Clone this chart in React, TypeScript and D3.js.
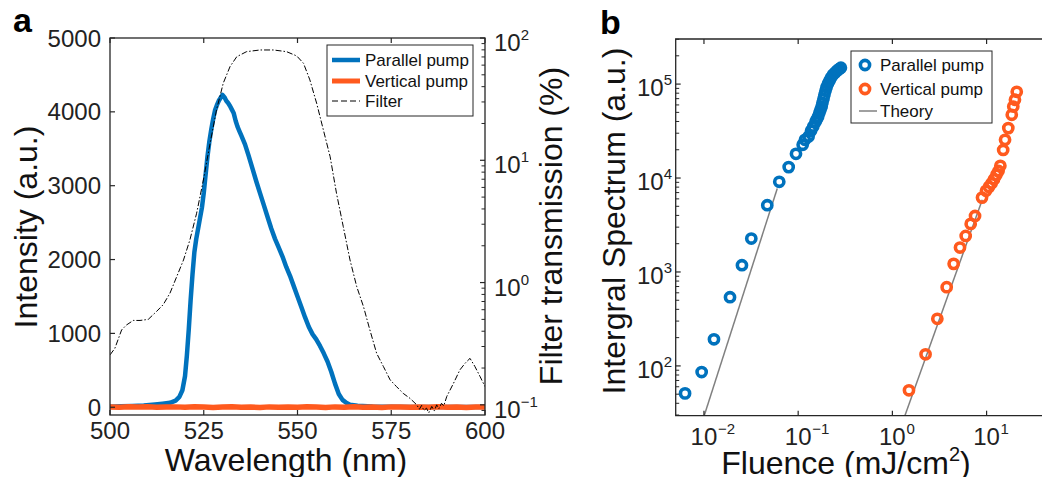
import React from 'react';
import * as d3 from 'd3';

const FONT = '"Liberation Sans", Arial, Helvetica, sans-serif';
const AX = '#262626';
const BLUE = '#0072BD';
const ORANGE = '#FF5A1E';
const GRAY = '#808080';

// ---------- Panel a data ----------
const wlParallel = [500, 503, 506, 509, 512, 514, 516, 517.5, 518.5, 519.3, 520, 520.5, 521, 521.5, 522, 522.5, 523, 523.5, 524, 524.5, 525, 525.5, 526, 526.5, 527, 527.5, 528, 528.5, 529, 529.5, 530, 530.5, 531, 531.5, 532, 532.5, 533, 533.5, 534, 534.5, 535, 536, 537, 538, 539, 540, 541, 542, 543, 544, 545, 546, 547, 548, 549, 550, 551, 552, 553, 554, 555, 556, 557, 558, 559, 560, 561, 562, 563, 564, 566, 570, 580, 590, 600];
const intParallel = [8, 12, 18, 25, 38, 48, 60, 90, 140, 230, 420, 700, 1050, 1450, 1800, 2100, 2280, 2420, 2560, 2700, 2900, 3150, 3400, 3600, 3760, 3900, 4020, 4090, 4150, 4190, 4230, 4200, 4150, 4120, 4080, 4030, 3980, 3880, 3800, 3740, 3680, 3560, 3400, 3230, 3060, 2900, 2740, 2580, 2420, 2280, 2160, 2040, 1900, 1780, 1640, 1500, 1360, 1220, 1090, 990, 920, 830, 730, 620, 480, 320, 180, 100, 60, 35, 20, 10, 5, 3, 2];

const wlVertical = [500, 502.5, 505, 507.5, 510, 512.5, 515, 517.5, 520, 522.5, 525, 527.5, 530, 532.5, 535, 537.5, 540, 542.5, 545, 547.5, 550, 552.5, 555, 557.5, 560, 562.5, 565, 567.5, 570, 572.5, 575, 577.5, 580, 582.5, 585, 587.5, 590, 592.5, 595, 597.5, 600];
const intVertical = [4, 1, 6, 2, 7, 0, 3, 5, -1, 6, 2, -2, 4, 8, 0, 3, -2, 5, 1, 4, -1, 6, 2, -2, 5, 1, 6, 0, 3, -3, 5, 2, -1, 4, 1, 7, 0, 3, -2, 4, 2];

const wlFilter = [500, 501.3, 503.1, 504.4, 506.2, 508.0, 510.2, 512.4, 514.2, 516.0, 517.8, 519.6, 521.3, 523.1, 524.9, 526.7, 528.4, 530.2, 532.0, 533.8, 536.4, 540.0, 543.6, 547.1, 549.8, 551.6, 553.3, 555.1, 556.9, 558.7, 560.4, 562.2, 564.0, 565.8, 567.6, 569.3, 571.1, 572.9, 574.7, 576.4, 578.2, 580.0, 581.8, 582.5, 583.1, 583.7, 584.4, 585.0, 585.8, 586.5, 587.1, 587.7, 588.4, 589.0, 589.8, 591.6, 593.3, 594.7, 596.0, 597.3, 598.7, 600];
const filterT = [0.256, 0.29, 0.41, 0.45, 0.49, 0.49, 0.50, 0.58, 0.66, 0.82, 1.12, 1.53, 2.23, 3.69, 6.9, 13.8, 25.8, 42.7, 58.3, 70.3, 77.3, 79.8, 79.8, 77.3, 71.3, 62.1, 45.4, 29.3, 17.7, 10.7, 5.37, 2.87, 1.53, 0.925, 0.635, 0.41, 0.264, 0.206, 0.16, 0.141, 0.124, 0.113, 0.100, 0.092, 0.099, 0.090, 0.094, 0.086, 0.097, 0.089, 0.100, 0.093, 0.103, 0.098, 0.117, 0.150, 0.193, 0.219, 0.240, 0.206, 0.170, 0.141];

const xTicksA = [500, 525, 550, 575, 600];
const yTicksA = [0, 1000, 2000, 3000, 4000, 5000];
const rightDecadesA = [-1, 0, 1, 2];

// ---------- Panel b data ----------
const fluenceParallel = [0.0063, 0.00945, 0.01277, 0.0189, 0.0253, 0.0318, 0.047, 0.063, 0.0793, 0.0948, 0.1116, 0.118, 0.129, 0.137, 0.1445, 0.1527, 0.1585, 0.163, 0.168, 0.1725, 0.1776, 0.181, 0.1857, 0.19, 0.195, 0.2, 0.207, 0.2148, 0.223, 0.234, 0.246, 0.258, 0.271, 0.284];
const spectrumParallel = [51, 86, 192, 539, 1180, 2270, 5140, 9120, 13070, 18100, 22600, 25500, 27700, 31800, 35300, 39600, 42600, 45200, 49500, 53200, 57700, 63200, 69700, 76900, 84900, 92500, 100700, 108400, 116700, 125600, 131900, 138600, 143800, 149300];
const fluenceVertical = [1.5, 2.25, 3.0, 3.77, 4.47, 5.22, 6.0, 6.78, 7.54, 8.94, 9.86, 10.6, 11.3, 12.0, 12.7, 13.4, 14.0, 15.0, 15.7, 17.0, 18.5, 19.2, 20.0, 20.9];
const spectrumVertical = [55, 133, 317, 689, 1220, 1820, 2420, 3250, 3950, 6190, 7310, 8050, 8780, 9690, 10800, 11900, 13500, 19900, 25500, 34000, 47100, 57700, 68100, 82800];
const theoryParallelF = [0.01, 0.06];
const theoryParallelS = [29, 7750];
const theoryVerticalF = [1.36, 9.0];
const theoryVerticalS = [29.6, 5880];
const xDecadesB = [-2, -1, 0, 1];
const yDecadesB = [2, 3, 4, 5];

// ---------- geometry ----------
const A = { l: 110, r: 485, t: 38, b: 415 };
const B = { l: 675.7, r: 1080.8, t: 39, b: 415.7 };

const xA = d3.scaleLinear().domain([500, 600]).range([A.l, A.r]);
const yA = d3.scaleLinear().domain([-105, 5000]).range([A.b, A.t]);
const yAR = d3.scaleLog().domain([Math.pow(10, -1.083), 100]).range([A.b, A.t]);

const xB = d3.scaleLog().domain([Math.pow(10, -2.3), 100]).range([B.l, B.r]);
const yB = d3.scaleLog().domain([Math.pow(10, 1.47), Math.pow(10, 5.48)]).range([B.b, B.t]);

function zip(xs: number[], ys: number[]): [number, number][] {
  return xs.map((x, i) => [x, ys[i]]);
}

export default function App() {
  const lineA = d3.line<[number, number]>().x(d => xA(d[0])).y(d => yA(d[1]));
  const lineAR = d3.line<[number, number]>().x(d => xA(d[0])).y(d => yAR(d[1]));
  const lineB = d3.line<[number, number]>().x(d => xB(d[0])).y(d => yB(d[1]));

  const minorA: number[] = [];
  for (const d of [-2, -1, 0, 1]) for (let k = 2; k <= 9; k++) {
    const v = k * Math.pow(10, d);
    const [lo, hi] = yAR.domain();
    if (v > lo && v < hi) minorA.push(v);
  }
  const minorB: number[] = [];
  for (const d of [1, 2, 3, 4, 5]) for (let k = 2; k <= 9; k++) {
    const v = k * Math.pow(10, d);
    const [lo, hi] = yB.domain();
    if (v > lo && v < hi) minorB.push(v);
  }

  const supLabel = (d: number) => (d < 0 ? '\u2212' + Math.abs(d) : String(d));

  return (
    <svg width={1042} height={477} style={{ position: 'absolute', left: 0, top: 0, background: '#fff' }} fontFamily={FONT}>
      <defs>
        <clipPath id="clipA"><rect x={A.l} y={A.t} width={A.r - A.l} height={A.b - A.t} /></clipPath>
        <clipPath id="clipB"><rect x={B.l} y={B.t} width={B.r - B.l} height={B.b - B.t} /></clipPath>
      </defs>
      <rect x={0} y={0} width={1042} height={477} fill="#fff" />

      {/* ---------------- Panel a ---------------- */}
      <text x={13} y={32} fontSize={34} fontWeight="bold" fill="#000">a</text>
      <g clipPath="url(#clipA)">
        <path d={lineA(zip(wlParallel, intParallel)) || ''} fill="none" stroke={BLUE} strokeWidth={4.5} strokeLinejoin="round" />
        <path d={lineA(zip(wlVertical, intVertical)) || ''} fill="none" stroke={ORANGE} strokeWidth={5.5} strokeLinejoin="round" />
        <path d={lineAR(zip(wlFilter, filterT)) || ''} fill="none" stroke="#000" strokeWidth={1} strokeDasharray="6,2,1.5,2" />
      </g>
      <rect x={A.l} y={A.t} width={A.r - A.l} height={A.b - A.t} fill="none" stroke={AX} strokeWidth={1.3} />
      {xTicksA.map(v => (
        <g key={'xa' + v}>
          <line x1={xA(v)} x2={xA(v)} y1={A.b} y2={A.b - 5} stroke={AX} strokeWidth={1.2} />
          <line x1={xA(v)} x2={xA(v)} y1={A.t} y2={A.t + 5} stroke={AX} strokeWidth={1.2} />
          <text x={xA(v)} y={439} fontSize={24} textAnchor="middle" fill="#222">{v}</text>
        </g>
      ))}
      {yTicksA.map(v => (
        <g key={'ya' + v}>
          <line x1={A.l} x2={A.l + 5} y1={yA(v)} y2={yA(v)} stroke={AX} strokeWidth={1.2} />
          <text x={101} y={yA(v) + 8.5} fontSize={24} textAnchor="end" fill="#222">{v}</text>
        </g>
      ))}
      {rightDecadesA.map(d => (
        <g key={'yr' + d}>
          <line x1={A.r} x2={A.r - 5} y1={yAR(Math.pow(10, d))} y2={yAR(Math.pow(10, d))} stroke={AX} strokeWidth={1.2} />
          <text x={494} y={yAR(Math.pow(10, d)) + 13} fontSize={24} fill="#222">
            10<tspan dy={-11} fontSize={15}>{supLabel(d)}</tspan>
          </text>
        </g>
      ))}
      {minorA.map(v => (
        <line key={'mr' + v} x1={A.r} x2={A.r - 3.5} y1={yAR(v)} y2={yAR(v)} stroke={AX} strokeWidth={1} />
      ))}
      <text transform={`translate(37,227) rotate(-90)`} fontSize={32} textAnchor="middle" fill="#111">Intensity (a.u.)</text>
      <text transform={`translate(562,226) rotate(-90)`} fontSize={32} textAnchor="middle" fill="#111">Filter transmission (%)</text>
      <text x={286} y={471} fontSize={32} textAnchor="middle" fill="#111">Wavelength (nm)</text>

      {/* legend a */}
      <rect x={327} y={45} width={146} height={71} fill="#fff" stroke={AX} strokeWidth={1} />
      <line x1={332} x2={360} y1={60} y2={60} stroke={BLUE} strokeWidth={4.5} />
      <line x1={332} x2={360} y1={81} y2={81} stroke={ORANGE} strokeWidth={5} />
      <line x1={332} x2={360} y1={101} y2={101} stroke="#000" strokeWidth={1} strokeDasharray="6,3" />
      <text x={365} y={66} fontSize={17} fill="#111">Parallel pump</text>
      <text x={365} y={87} fontSize={17} fill="#111">Vertical pump</text>
      <text x={365} y={107} fontSize={17} fill="#111">Filter</text>

      {/* ---------------- Panel b ---------------- */}
      <text x={600} y={34} fontSize={34} fontWeight="bold" fill="#000">b</text>
      <g clipPath="url(#clipB)">
        <path d={lineB(zip(theoryParallelF, theoryParallelS)) || ''} fill="none" stroke={GRAY} strokeWidth={1.5} />
        <path d={lineB(zip(theoryVerticalF, theoryVerticalS)) || ''} fill="none" stroke={GRAY} strokeWidth={1.5} />
        {fluenceParallel.map((f, i) => (
          <circle key={'bp' + i} cx={xB(f)} cy={yB(spectrumParallel[i])} r={4.6} fill="none" stroke={BLUE} strokeWidth={3.6} />
        ))}
        {fluenceVertical.map((f, i) => (
          <circle key={'bv' + i} cx={xB(f)} cy={yB(spectrumVertical[i])} r={4.6} fill="none" stroke={ORANGE} strokeWidth={3.6} />
        ))}
      </g>
      <path d={`M${B.r},${B.t}H${B.l}V${B.b}H${B.r}`} fill="none" stroke={AX} strokeWidth={1.3} />
      {xDecadesB.map(d => {
        const x = xB(Math.pow(10, d));
        return (
          <g key={'xb' + d}>
            <line x1={x} x2={x} y1={B.b} y2={B.b - 5} stroke={AX} strokeWidth={1.2} />
            <line x1={x} x2={x} y1={B.t} y2={B.t + 5} stroke={AX} strokeWidth={1.2} />
            <text x={x} y={445} fontSize={24} textAnchor="middle" fill="#222">10</text>
            <text x={x + 14} y={434} fontSize={15} fill="#222">{supLabel(d)}</text>
          </g>
        );
      })}
      {yDecadesB.map(d => {
        const y = yB(Math.pow(10, d));
        return (
          <g key={'yb' + d}>
            <line x1={B.l} x2={B.l + 5} y1={y} y2={y} stroke={AX} strokeWidth={1.2} />
            <text x={672} y={y + 12} fontSize={24} textAnchor="end" fill="#222">
              10<tspan dy={-11} fontSize={15}>{supLabel(d)}</tspan>
            </text>
          </g>
        );
      })}
      {minorB.map(v => (
        <line key={'mb' + v} x1={B.l} x2={B.l + 3.5} y1={yB(v)} y2={yB(v)} stroke={AX} strokeWidth={1} />
      ))}
      <text transform={`translate(625,221) rotate(-90)`} fontSize={32} textAnchor="middle" fill="#111">Intergral Spectrum (a.u.)</text>
      <text x={846} y={474} fontSize={32} textAnchor="middle" fill="#111">
        Fluence (mJ/cm<tspan dy={-13} fontSize={20}>2</tspan><tspan dy={13}>)</tspan>
      </text>

      {/* legend b */}
      <rect x={851} y={51} width={141} height={72} fill="#fff" stroke={AX} strokeWidth={1} />
      <circle cx={865} cy={65} r={4.6} fill="none" stroke={BLUE} strokeWidth={3.6} />
      <circle cx={865} cy={89} r={4.6} fill="none" stroke={ORANGE} strokeWidth={3.6} />
      <line x1={859} x2={877} y1={111} y2={111} stroke={GRAY} strokeWidth={1.5} />
      <text x={880} y={71} fontSize={17} fill="#111">Parallel pump</text>
      <text x={880} y={95} fontSize={17} fill="#111">Vertical pump</text>
      <text x={880} y={117} fontSize={17} fill="#111">Theory</text>
    </svg>
  );
}
